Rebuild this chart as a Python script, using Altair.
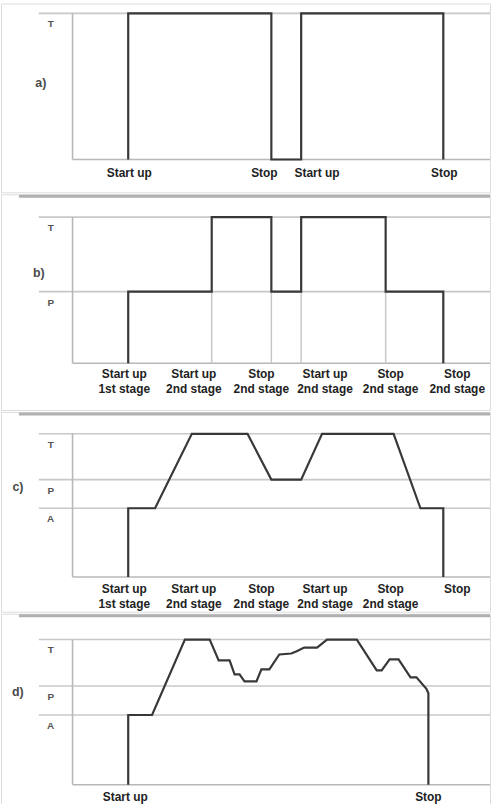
import altair as alt
import pandas as pd

# Shared time axis: 0 = vertical axis of each diagram, 420 = right edge.
# Signal levels: 0 = baseline, 100 = "T".
X_DOMAIN = [-72, 420]
GRID_START = -34
SEP_START = -54

# a) on/off operation
a_t = [56, 56, 200, 200, 230, 230, 373, 373]
a_v = [0, 100, 100, 0, 0, 100, 100, 0]
a_levels = ["T"]
a_level_v = [100]
a_lab_t = [57, 193, 246, 374]
a_lab = ["Start up", "Stop", "Start up", "Stop"]

# b) two-stage operation
b_t = [56, 56, 140, 140, 200, 200, 230, 230, 315, 315, 373, 373]
b_v = [0, 49, 49, 100, 100, 49, 49, 100, 100, 49, 49, 0]
b_levels = ["T", "P"]
b_level_v = [100, 49]
b_drop_t = [140, 200, 230, 315]
b_lab_t = [52, 122, 190, 254, 320, 387]
b_lab = ["Start up\n1st stage", "Start up\n2nd stage", "Stop\n2nd stage",
         "Start up\n2nd stage", "Stop\n2nd stage", "Stop\n2nd stage"]

# c) two-stage operation with progressive transitions
c_t = [56, 56, 83, 120, 176, 200, 230, 251, 323, 350, 373, 373]
c_v = [0, 48, 48, 100, 100, 68, 68, 100, 100, 48, 48, 0]
c_levels = ["T", "P", "A"]
c_level_v = [100, 68, 48]
c_lab_t = [52, 122, 190, 254, 320, 387]
c_lab = ["Start up\n1st stage", "Start up\n2nd stage", "Stop\n2nd stage",
         "Start up\n2nd stage", "Stop\n2nd stage", "Stop"]

# d) modulating operation
d_t = [56, 56, 80, 113, 138, 147, 158, 163, 168, 173, 185, 190, 198, 208, 220,
       225, 233, 246, 256, 286, 306, 311, 319, 328, 340, 346, 356, 358, 358]
d_v = [0, 48, 48, 100, 100, 85.6, 85.6, 76, 76, 71.2, 71.2, 79.5, 79.5, 89.7, 90.4,
       91.8, 94.5, 94.5, 100, 100, 78.8, 78.8, 86.3, 86.3, 74, 74, 66, 63, 0]
d_levels = ["T", "P", "A"]
d_level_v = [100, 68, 48]
d_lab_t = [53, 358]
d_lab = ["Start up", "Stop"]

FONT = "Liberation Sans, Arial, sans-serif"
SIGNAL = "#383838"
GRID = "#c8c8c8"
AXIS = "#b8b8b8"
SEP = "#b0b0b0"
W = 492


def panel(tag, tag_t, tag_v, top, bottom, y_top, y_base, t, v, levels, level_v,
          lab_t, lab, lab_dy, drops=None, drop_to=None, sep=True):
    h = bottom - top
    k = 100.0 / (y_base - y_top)
    y_dom = [-(bottom - y_base) * k, 100 + (y_top - top) * k]
    xs = alt.Scale(domain=X_DOMAIN, nice=False, zero=False)
    ys = alt.Scale(domain=y_dom, nice=False, zero=False)

    def X(f="t"):
        return alt.X(f"{f}:Q", scale=xs, axis=None)

    def Y(f="v"):
        return alt.Y(f"{f}:Q", scale=ys, axis=None)

    layers = []

    grid = pd.DataFrame({"t": GRID_START, "t2": X_DOMAIN[1], "v": level_v})
    layers.append(alt.Chart(grid).mark_rule(color=GRID, strokeWidth=1.6).encode(
        x=X(), x2="t2:Q", y=Y()))

    base = pd.DataFrame({"t": [0], "t2": [X_DOMAIN[1]], "v": [0]})
    layers.append(alt.Chart(base).mark_rule(color=AXIS, strokeWidth=1.6).encode(
        x=X(), x2="t2:Q", y=Y()))

    vaxis = pd.DataFrame({"t": [0], "v": [0], "v2": [100]})
    layers.append(alt.Chart(vaxis).mark_rule(color=AXIS, strokeWidth=1.6).encode(
        x=X(), y=Y(), y2="v2:Q"))

    if drops:
        dr = pd.DataFrame({"t": drops, "v": 0, "v2": drop_to})
        layers.append(alt.Chart(dr).mark_rule(color=GRID, strokeWidth=1.5).encode(
            x=X(), y=Y(), y2="v2:Q"))

    sig = pd.DataFrame({"t": t, "v": v, "i": range(len(t))})
    layers.append(alt.Chart(sig).mark_line(color=SIGNAL, strokeWidth=2.2,
                                           strokeJoin="miter").encode(
        x=X(), y=Y(), order="i:Q"))

    lv = pd.DataFrame({"t": -22, "v": level_v, "s": levels})
    layers.append(alt.Chart(lv).mark_text(font=FONT, fontSize=10, fontWeight="bold",
                                          color="#555", baseline="middle", dy=11).encode(
        x=X(), y=Y(), text="s:N"))

    tg = pd.DataFrame({"t": [tag_t], "v": [tag_v], "s": [tag]})
    layers.append(alt.Chart(tg).mark_text(font=FONT, fontSize=12.5, fontWeight="bold",
                                          color="#4a4a4a", baseline="middle").encode(
        x=X(), y=Y(), text="s:N"))

    lb = pd.DataFrame({"t": lab_t, "v": 0, "s": lab})
    layers.append(alt.Chart(lb).mark_text(font=FONT, fontSize=12, fontWeight="bold",
                                          color="#222", baseline="top", dy=lab_dy,
                                          lineBreak="\n", lineHeight=15).encode(
        x=X(), y=Y(), text="s:N"))

    if sep:
        sp = pd.DataFrame({"t": [SEP_START], "t2": [X_DOMAIN[1]]})
        layers.append(alt.Chart(sp).mark_rule(color=SEP, strokeWidth=3).encode(
            x=X(), x2="t2:Q", y=alt.value(2)))

    return alt.layer(*layers).properties(width=W, height=h)


pa = panel("a)", -32, 52, 0, 190, 10, 157, a_t, a_v, a_levels, a_level_v,
           a_lab_t, a_lab, 9, sep=False)
pb = panel("b)", -34, 62, 190, 407, 213, 360, b_t, b_v, b_levels, b_level_v,
           b_lab_t, b_lab, 6, drops=b_drop_t, drop_to=49)
pc = panel("c)", -55, 63, 407, 608, 429, 573, c_t, c_v, c_levels, c_level_v,
           c_lab_t, c_lab, 7)
pd_ = panel("d)", -55, 64, 608, 801, 634, 780, d_t, d_v, d_levels, d_level_v,
            d_lab_t, d_lab, 7)

chart = alt.vconcat(pa, pb, pc, pd_, spacing=0).properties(padding=0).configure_view(
    stroke=None).configure(background="white")

chart.save("out.html", embed_options={"renderer": "svg", "actions": False})
